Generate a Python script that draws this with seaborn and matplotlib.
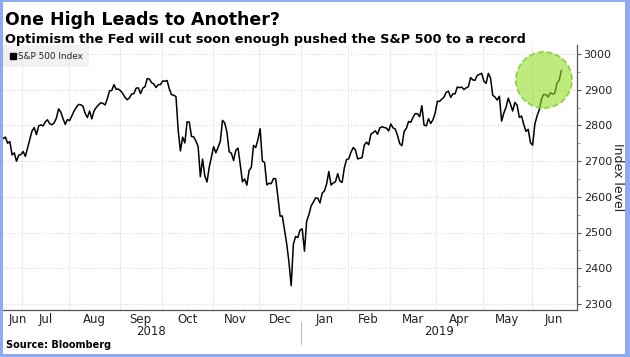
import matplotlib
matplotlib.use("Agg")
import matplotlib.pyplot as plt
from matplotlib.patches import Ellipse, Rectangle
from matplotlib.lines import Line2D
import matplotlib.transforms as mtransforms
import numpy as np
import pandas as pd
import seaborn as sns

# S&P 500 daily closes, Jun 18 2018 - Jun 20 2019, by month
jun18 = [2773.9, 2762.6, 2767.3, 2749.8, 2754.9, 2717.1, 2723.1, 2699.6, 2716.3, 2718.4]
jul18 = [2726.7, 2713.2, 2736.6, 2759.8, 2784.2, 2793.8, 2774.0, 2798.3, 2801.3, 2798.4,
         2809.6, 2815.6, 2804.5, 2801.8, 2807.0, 2820.4, 2846.1, 2837.4, 2818.8, 2802.6, 2816.3]
aug18 = [2813.4, 2827.2, 2840.4, 2850.4, 2858.5, 2857.7, 2853.6, 2833.3, 2821.9, 2840.0,
         2818.4, 2840.7, 2850.1, 2857.1, 2863.0, 2861.8, 2857.0, 2874.7, 2896.7, 2897.5,
         2914.0, 2901.1, 2901.5]
sep18 = [2896.7, 2888.6, 2878.1, 2871.7, 2877.1, 2887.9, 2888.9, 2904.2, 2905.0, 2888.8,
         2904.3, 2908.0, 2930.8, 2929.7, 2919.4, 2915.6, 2906.0, 2914.0, 2914.0]
oct18 = [2924.6, 2923.4, 2925.5, 2901.6, 2885.6, 2884.4, 2880.3, 2785.7, 2728.4, 2767.1,
         2750.8, 2809.9, 2809.2, 2768.8, 2767.8, 2755.9, 2740.7, 2656.1, 2705.6, 2658.7,
         2641.3, 2682.6, 2711.7]
nov18 = [2740.4, 2723.1, 2738.3, 2755.5, 2813.9, 2806.8, 2781.0, 2726.2, 2722.2, 2701.6,
         2730.2, 2736.3, 2690.7, 2641.9, 2649.9, 2632.6, 2673.5, 2682.2, 2743.8, 2737.8, 2760.2]
dec18 = [2790.4, 2700.1, 2696.0, 2633.1, 2637.7, 2636.8, 2651.1, 2650.5, 2600.0, 2545.9,
         2546.2, 2507.0, 2467.4, 2416.6, 2351.1, 2467.7, 2488.8, 2485.7, 2506.9]
jan19 = [2510.0, 2447.9, 2531.9, 2549.7, 2574.4, 2585.0, 2596.6, 2596.3, 2582.6, 2610.3,
         2616.1, 2636.0, 2670.7, 2632.9, 2638.7, 2642.3, 2664.8, 2643.9, 2640.0, 2681.1, 2704.1]
feb19 = [2706.5, 2724.9, 2737.7, 2731.6, 2706.1, 2707.9, 2709.8, 2744.7, 2753.0, 2745.7,
         2775.6, 2779.8, 2784.7, 2774.9, 2792.7, 2796.1, 2793.9, 2792.4, 2784.5]
mar19 = [2803.7, 2792.8, 2789.7, 2771.5, 2748.9, 2743.1, 2783.3, 2791.5, 2810.9, 2808.5,
         2822.5, 2832.9, 2832.6, 2824.2, 2854.9, 2800.7, 2798.4, 2818.5, 2805.4, 2815.4, 2834.4]
apr19 = [2867.2, 2867.2, 2873.4, 2879.4, 2892.7, 2895.8, 2878.2, 2888.2, 2888.3, 2907.4,
         2905.6, 2907.1, 2900.5, 2905.0, 2908.0, 2933.7, 2927.3, 2926.2, 2939.9, 2943.0, 2945.8]
may19 = [2923.7, 2917.5, 2945.6, 2932.5, 2884.1, 2879.4, 2870.7, 2881.4, 2811.9, 2834.4,
         2851.0, 2876.3, 2859.5, 2840.2, 2864.4, 2856.3, 2822.2, 2826.1, 2802.4, 2783.0,
         2788.9, 2752.1]
jun19 = [2744.5, 2803.3, 2826.2, 2843.5, 2873.3, 2886.7, 2885.7, 2879.8, 2891.6, 2887.0,
         2889.7, 2917.8, 2926.5, 2954.2]

holidays = ["2018-07-04", "2018-09-03", "2018-11-22", "2018-12-05", "2018-12-25",
            "2019-01-01", "2019-01-21", "2019-02-18", "2019-04-19", "2019-05-27"]
month_labels = ["Jun", "Jul", "Aug", "Sep", "Oct", "Nov", "Dec",
                "Jan", "Feb", "Mar", "Apr", "May", "Jun"]
year_labels = ["2018", "2019"]
y_ticks = [2300, 2400, 2500, 2600, 2700, 2800, 2900, 3000]

closes = jun18 + jul18 + aug18 + sep18 + oct18 + nov18 + dec18 + jan19 + feb19 + mar19 + apr19 + may19 + jun19
days = pd.bdate_range("2018-06-18", "2019-06-20")
days = days[~days.isin(pd.to_datetime(holidays))]
df = pd.DataFrame({"date": days, "close": closes})
df["idx"] = np.arange(len(df))

sns.set_style("white")
plt.rcParams["font.family"] = ["DejaVu Sans"]
plt.rcParams["text.color"] = "black"

fig = plt.figure(figsize=(6.3, 3.57), dpi=100)
ax = fig.add_axes([0, 1 - 310 / 357, 576.7 / 630, 265 / 357])

sns.lineplot(data=df, x="idx", y="close", color="black", linewidth=1.1, ax=ax, zorder=3)

# month boundaries (trading-day axis, like the terminal chart)
ym = df["date"].dt.to_period("M")
starts = df.index[ym != ym.shift()].tolist()
bounds = [s - 0.5 for s in starts[1:]]
xmin, xmax = -0.45, 259.9
edges = [xmin] + bounds + [xmax]
mids = [(a + b) / 2 for a, b in zip(edges[:-1], edges[1:])]
mids[0] = 7.6

ax.set_xlim(xmin, xmax)
ax.set_ylim(2283, 3025)
ax.set_xticks(bounds)
ax.set_xticklabels([])
ax.set_xticks(mids, minor=True)
ax.set_xticklabels(month_labels, minor=True)
ax.tick_params(axis="x", which="major", direction="inout", length=4, color="#555555", width=0.8)
ax.tick_params(axis="x", which="minor", length=0, labelsize=8.5, labelcolor="#222222", pad=2)

ax.yaxis.tick_right()
ax.yaxis.set_label_position("right")
ax.set_yticks(y_ticks)
ax.set_yticks(np.arange(2350, 3000, 100), minor=True)
ax.tick_params(axis="y", which="major", direction="out", length=3, color="#555555",
               labelsize=8, labelcolor="#222222", pad=2)
ax.tick_params(axis="y", which="minor", direction="out", length=2, color="#999999")
ax.set_ylabel("Index level", rotation=270, fontsize=9, color="#222222", labelpad=9)
ax.set_xlabel("")

for s in ["left", "top"]:
    ax.spines[s].set_visible(False)
for s in ["right", "bottom"]:
    ax.spines[s].set_color("#555555")
    ax.spines[s].set_linewidth(0.9)

for yv in y_ticks:
    ax.axhline(yv, color="#d8d8d8", linestyle=":", linewidth=0.8, zorder=0)
for b in bounds:
    ax.axvline(b, color="#ececec", linewidth=0.8, zorder=0)

# year labels and separator
trans = mtransforms.blended_transform_factory(ax.transData, ax.transAxes)
split = bounds[6]
ax.text((xmin + split) / 2, -0.083, year_labels[0], transform=trans, ha="center", va="center",
        fontsize=8.5, color="#222222")
ax.text((split + xmax) / 2, -0.083, year_labels[1], transform=trans, ha="center", va="center",
        fontsize=8.5, color="#222222")
ax.plot([split, split], [-0.045, -0.13], transform=trans, color="#bbbbbb", linewidth=0.8, clip_on=False)

# highlight circle around the record, semi-transparent over the line
ax.add_patch(Ellipse((245.1, 2927), 25.3, 157, facecolor=(0.567, 0.875, 0.15, 0.6),
                     edgecolor="#8bd13f", linestyle="--", linewidth=1.2, zorder=4))

handle = Line2D([], [], marker="s", color="black", linestyle="none", markersize=4.5)
leg = ax.legend([handle], ["S&P 500 Index"], loc="upper left", bbox_to_anchor=(0.005, 1.0),
                fontsize=6.4, frameon=True, fancybox=False, handletextpad=0.1, handlelength=0.8,
                borderpad=0.75, borderaxespad=0)
leg.get_frame().set_facecolor("#eeeeee")
leg.get_frame().set_edgecolor("none")
for t in leg.get_texts():
    t.set_color("#222222")

fig.text(5 / 630, 1 - 20 / 357, "One High Leads to Another?", fontsize=12.5, fontweight="bold",
         va="center", ha="left")
fig.text(5 / 630, 1 - 40 / 357, "Optimism the Fed will cut soon enough pushed the S&P 500 to a record",
         fontsize=9.25, fontweight="bold", va="center", ha="left")
fig.text(6 / 630, 1 - 345 / 357, "Source: Bloomberg", fontsize=7, fontweight="bold",
         va="center", ha="left")

# light blue frame
blue = "#8eaaf0"
for r in [(0, 0, 3 / 630, 1), (625 / 630, 0, 5 / 630, 1), (0, 0, 1, 3 / 357), (0, 1 - 2 / 357, 1, 2 / 357)]:
    fig.add_artist(Rectangle(r[:2], r[2], r[3], transform=fig.transFigure, facecolor=blue,
                             edgecolor="none", zorder=10))

fig.savefig("out.png", dpi=100)
